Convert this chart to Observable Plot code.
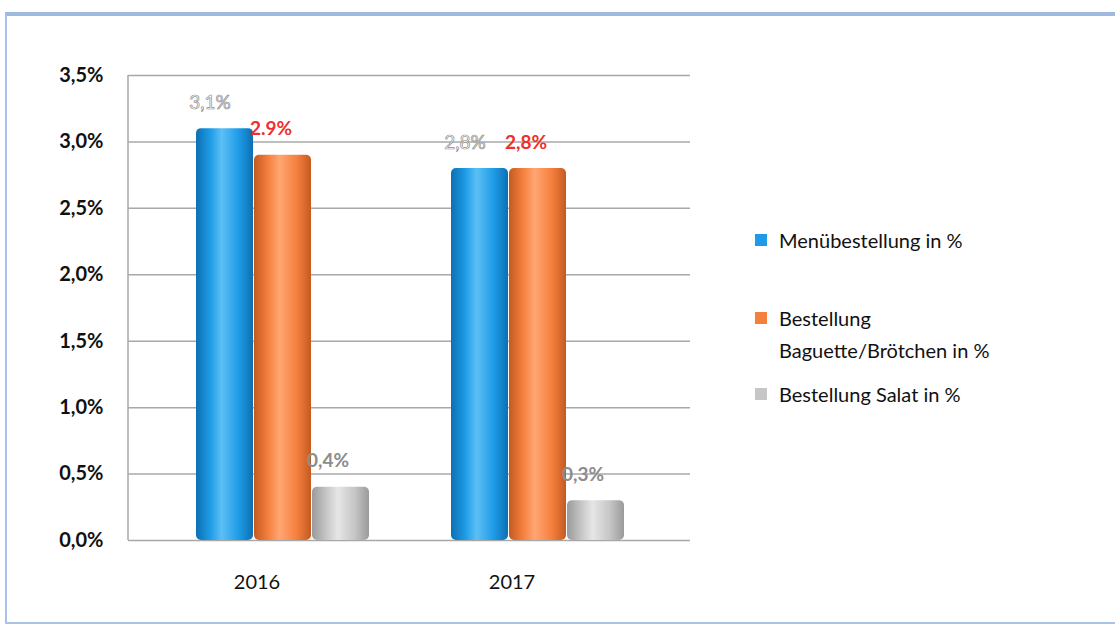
<!DOCTYPE html>
<html><head><meta charset="utf-8">
<script src="https://cdn.jsdelivr.net/npm/d3@7"></script>
<script src="https://cdn.jsdelivr.net/npm/@observablehq/plot@0.6"></script>
<style>
body{margin:0;background:#fff;font-family:Lato,"Open Sans",sans-serif;}
#wrap{position:relative;width:1115px;height:628px;overflow:hidden;}
#frame{position:absolute;left:5px;top:12px;width:1120px;height:612px;border:2px solid #a9c3e6;border-top:4px solid #9fb9df;box-sizing:border-box;}
#chart{position:absolute;left:0;top:0;}
#legend{position:absolute;left:755px;top:0;font-size:20px;color:#111;}
.li{position:absolute;white-space:nowrap;line-height:32px;}
.sw{position:absolute;left:0;width:12px;height:12px;}
.tx{position:absolute;left:24px;}
</style></head>
<body><div id="wrap"><div id="frame"></div><div id="chart"></div><div id="legend"></div></div>
<script>
const years = ["2016", "2017"];
const seriesNames = ["Menübestellung in %", "Bestellung Baguette/Brötchen in %", "Bestellung Salat in %"];
const seriesKeys = ["menu", "baguette", "salat"];
const menuValues = [3.1, 2.8];
const baguetteValues = [2.9, 2.8];
const salatValues = [0.4, 0.3];
const menuLabels = ["3,1%", "2,8%"];
const baguetteLabels = ["2.9%", "2,8%"];
const salatLabels = ["0,4%", "0,3%"];
const yTicks = [0, 0.5, 1.0, 1.5, 2.0, 2.5, 3.0, 3.5];
const colors = ["#1e9be6", "#f5803e", "#c6c6c6"];

const valueArrays = [menuValues, baguetteValues, salatValues];
const labelArrays = [menuLabels, baguetteLabels, salatLabels];
const rows = [];
years.forEach((yr, i) => seriesKeys.forEach((k, j) => rows.push({year: yr, key: k, value: valueArrays[j][i], label: labelArrays[j][i]})));
const gridRows = years.flatMap(yr => yTicks.map(v => ({year: yr, v})));

const fmt = d => d.toFixed(1).replace(".", ",") + "%";

const svg = Plot.plot({
  width: 700, height: 628,
  marginLeft: 155, marginRight: 35, marginTop: 75, marginBottom: 88,
  style: {fontFamily: "Lato, 'Open Sans', sans-serif", background: "transparent"},
  fx: {domain: years, padding: 0, label: null},
  x: {domain: seriesKeys, paddingInner: 0.02, paddingOuter: 0.7, axis: null},
  y: {domain: [0, 3.5], ticks: yTicks, tickFormat: fmt, label: null},
  color: {domain: seriesKeys, range: colors},
  marks: [
    Plot.gridY(gridRows.filter(d => d.year === "2016"), {fx: "year", y: "v", stroke: "#a8a8a8", strokeOpacity: 1, strokeWidth: 1.5, insetLeft: -27}),
    Plot.gridY(gridRows.filter(d => d.year === "2017"), {fx: "year", y: "v", stroke: "#a8a8a8", strokeOpacity: 1, strokeWidth: 1.5, insetRight: -25}),
    Plot.axisY(yTicks, {tickFormat: fmt, tickSize: 0, tickPadding: 52, fontSize: 20, fontWeight: "bold", fill: "#111", label: null}),
    Plot.axisFx({anchor: "bottom", tickSize: 0, tickPadding: 34, dx: -26, fontSize: 20, fill: "#111", label: null}),
    Plot.barY(rows, {fx: "year", x: "key", y: "value", fill: d => "url(#g-" + d.key + ")", ry: 5}),
    Plot.text(rows.filter(d => d.key === "menu"), {fx: "year", x: "key", y: "value", text: "label", dy: -26, dx: -15, fontSize: 19, fill: "white", stroke: "#8e8e8e", strokeWidth: 0.7, paintOrder: "normal"}),
    Plot.text(rows.filter(d => d.key === "baguette"), {fx: "year", x: "key", y: "value", text: "label", dy: -26, dx: -12, fontSize: 19, fontWeight: "bold", fill: "#f0302a"}),
    Plot.text(rows.filter(d => d.key === "salat"), {fx: "year", x: "key", y: "value", text: "label", dy: -26, dx: -13, fontSize: 19, fontWeight: "bold", fill: "#8c8c8c"})
  ]
});

const defs = d3.select(svg).insert("defs", ":first-child");
const shades = {
  menu: ["#0d6fb3", "#1e9be6", "#5cc0f5", "#1e9be6", "#0d6fb3"],
  baguette: ["#c45a20", "#f5803e", "#ffa672", "#f5803e", "#c45a20"],
  salat: ["#9a9a9a", "#c6c6c6", "#e6e6e6", "#c6c6c6", "#9a9a9a"]
};
for (const k of seriesKeys) {
  const g = defs.append("linearGradient").attr("id", "g-" + k).attr("x1", 0).attr("x2", 1).attr("y1", 0).attr("y2", 0);
  shades[k].forEach((c, i) => g.append("stop").attr("offset", [0, 0.25, 0.45, 0.75, 1][i]).attr("stop-color", c));
}
// vertical axis line at the left end of the gridlines
const x0 = 155 - 27;
d3.select(svg).append("line").attr("x1", x0).attr("x2", x0).attr("y1", 75).attr("y2", 540).attr("stroke", "#a8a8a8").attr("stroke-width", 1.5);
document.getElementById("chart").appendChild(svg);

const legendPos = [{top: 224}, {top: 302}, {top: 378}];
const lg = d3.select("#legend");
seriesNames.forEach((name, i) => {
  const item = lg.append("div").attr("class", "li").style("top", legendPos[i].top + "px");
  item.append("div").attr("class", "sw").style("top", "10px").style("background", colors[i]);
  const parts = i === 1 ? ["Bestellung", "Baguette/Brötchen in %"] : [name];
  const t = item.append("div").attr("class", "tx");
  parts.forEach(p => t.append("div").text(p));
});
</script></body></html>
